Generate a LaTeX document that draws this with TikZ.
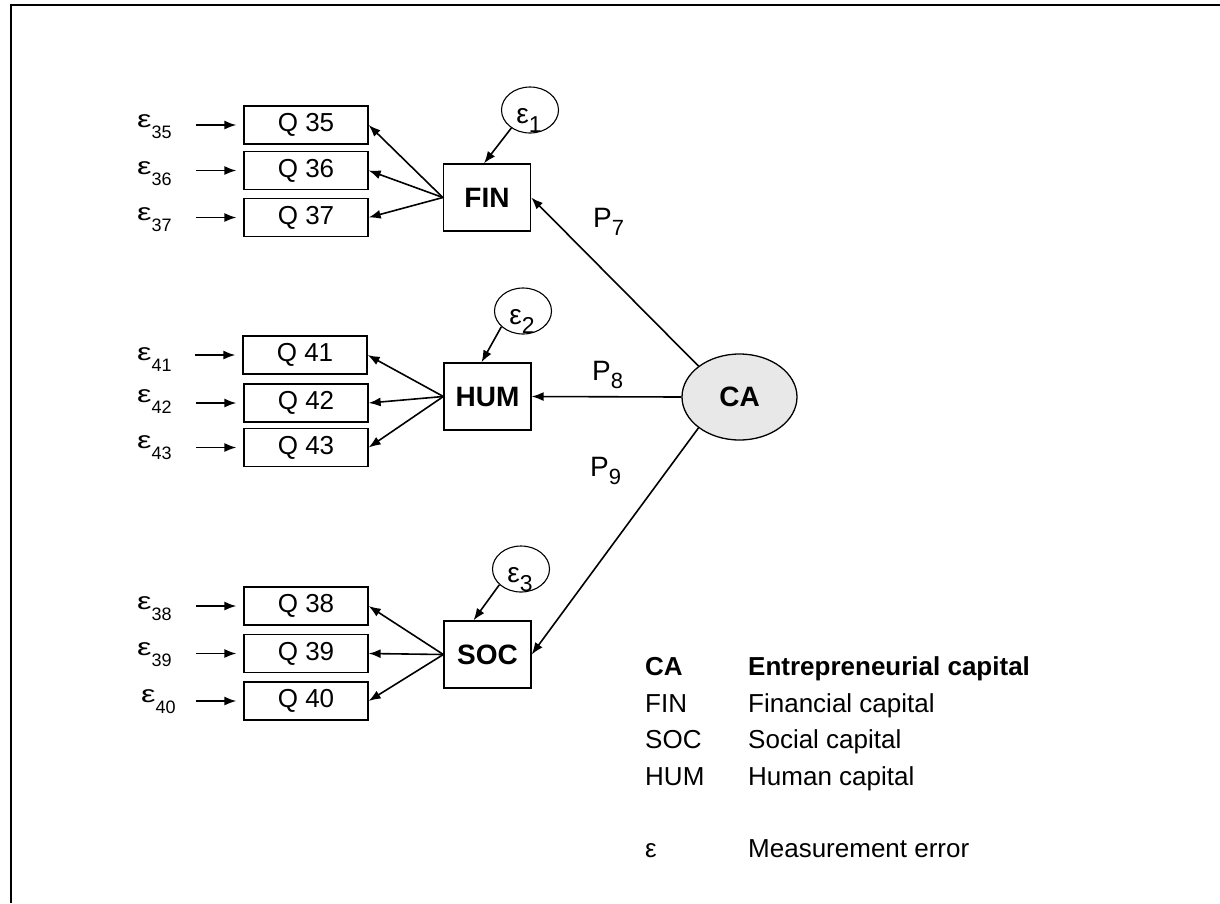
\documentclass[tikz,border=0pt]{standalone}
\usepackage{fontspec}
\usepackage{graphicx}
\setmainfont{Liberation Sans}
\usetikzlibrary{arrows.meta,shapes.geometric}

% font size helper (sizes in pt, picture is laid out 1pt per unit)
\newcommand\fs[1]{\fontsize{#1}{#1}\selectfont}
% indicator error label, e.g. epsilon_35
\newcommand\errlab[1]{{\fs{24}\scalebox{1.35}[1]{ε}}\raisebox{-11pt}{\fs{18}#1}}
% latent error label inside the small ellipses
\newcommand\latlab[1]{{\fs{28}ε}\raisebox{-9pt}{\fs{23}#1}}
% path coefficient label
\newcommand\plab[1]{{\fs{28}P}\raisebox{-8pt}{\fs{22}#1}}

\tikzset{
  obs/.style={draw, line width=1.3pt, minimum width=124pt, minimum height=38pt,
              inner sep=0pt, font=\fs{26}},
  lat/.style={draw, line width=1.3pt, minimum width=87pt, minimum height=67pt,
              inner sep=0pt, font=\fs{28}\bfseries},
  err/.style={draw, ellipse, line width=1.1pt, minimum width=57pt,
              minimum height=46pt, inner sep=0pt},
  arr/.style={-{Latex[length=12pt,width=9pt]}, line width=1.6pt},
  txt/.style={inner sep=0pt, anchor=base west},
  legend/.style={txt, font=\fs{26}},
}

\begin{document}
\begin{tikzpicture}[x=1pt, y=-1pt]
\useasboundingbox (0,0) rectangle (1220,903);

% open frame
\draw[line width=2.2pt] (11,903) -- (11,5) -- (1220,5);

% observed indicators
\node[obs] (q35) at (306,125)   {Q 35};
\node[obs] (q36) at (306,170.5) {Q 36};
\node[obs] (q37) at (306,217.5) {Q 37};
\node[obs] (q41) at (305,355)   {Q 41};
\node[obs] (q42) at (306,403)   {Q 42};
\node[obs] (q43) at (306,447.5) {Q 43};
\node[obs] (q38) at (306,606)   {Q 38};
\node[obs] (q39) at (306,653.5) {Q 39};
\node[obs] (q40) at (306,701)   {Q 40};

% latent constructs
\node[lat] (fin) at (487,197.5) {FIN};
\node[lat] (hum) at (487.5,396.5) {HUM};
\node[lat] (soc) at (487.5,654.5) {SOC};
\node[draw, ellipse, fill=black!9, line width=1.3pt, minimum width=115pt,
      minimum height=86pt, inner sep=0pt, font=\fs{28}\bfseries] (ca) at (739.5,397) {CA};

% disturbances of the latent constructs
\node[err] (e1) at (530,110) {};
\node[txt, anchor=base] (e1t) at (529,123) {\latlab{1}};
\node[err] (e2) at (523,311) {};
\node[txt, anchor=base] (e2t) at (522,324) {\latlab{2}};
\node[err] (e3) at (521,569) {};
\node[txt, anchor=base] (e3t) at (520,582) {\latlab{3}};

\draw[arr] (e1.224) -- ([xshift=-3pt]fin.north);
\draw[arr] (e2.216) -- ([xshift=-6pt]hum.north);
\draw[arr] (e3.216) -- ([xshift=-14pt]soc.north);

% measurement errors of the indicators
\node[txt] (l35) at (137,127) {\errlab{35}};
\node[txt] (l36) at (137,174) {\errlab{36}};
\node[txt] (l37) at (137,220) {\errlab{37}};
\node[txt] (l41) at (137,360) {\errlab{41}};
\node[txt] (l42) at (137,402) {\errlab{42}};
\node[txt] (l43) at (137,448) {\errlab{43}};
\node[txt] (l38) at (137,609) {\errlab{38}};
\node[txt] (l39) at (137,655) {\errlab{39}};
\node[txt] (l40) at (141,702) {\errlab{40}};

\foreach \q in {35,36,37,41,42,43,38,39,40}{
  \draw[arr] ([xshift=-47pt]q\q.west) -- ([xshift=-7pt]q\q.west);
}

% loadings
\foreach \q in {35,36,37}{ \draw[arr] (fin.west) -- (q\q.east); }
\foreach \q in {41,42,43}{ \draw[arr] (hum.west) -- (q\q.east); }
\foreach \q in {38,39,40}{ \draw[arr] (soc.west) -- (q\q.east); }

% structural paths
\draw[arr] (ca.143) -- (fin.east);
\draw[arr] (ca.west) -- (hum.east);
\draw[arr] (ca.217) -- (soc.east);

\node[txt] (p7) at (593,227) {\plab{7}};
\node[txt] (p8) at (592,380) {\plab{8}};
\node[txt] (p9) at (590,476) {\plab{9}};

% legend
\node[legend, font=\fs{26}\bfseries] (k1) at (645,675) {CA};
\node[legend, font=\fs{26}\bfseries] (v1) at (748,675) {Entrepreneurial capital};
\node[legend] (k2) at (645,712) {FIN};
\node[legend] (v2) at (748,712) {Financial capital};
\node[legend] (k3) at (645,748) {SOC};
\node[legend] (v3) at (748,748) {Social capital};
\node[legend] (k4) at (645,785) {HUM};
\node[legend] (v4) at (748,785) {Human capital};
\node[legend] (k5) at (645,857) {ε};
\node[legend] (v5) at (748,857) {Measurement error};
\end{tikzpicture}
\end{document}
